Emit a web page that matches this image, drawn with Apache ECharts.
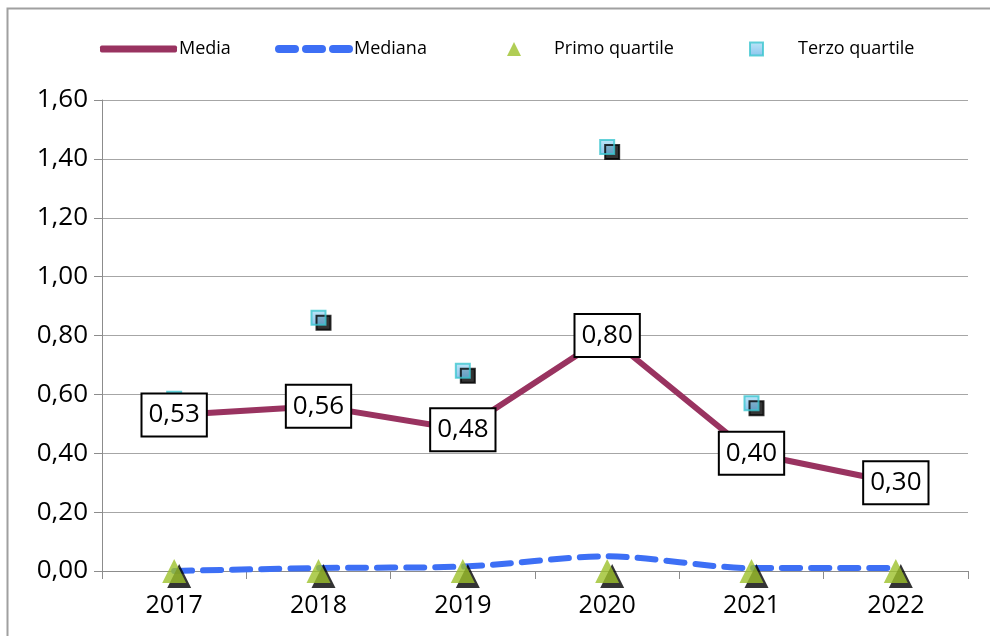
<!DOCTYPE html>
<html>
<head>
<meta charset="utf-8">
<script src="https://cdn.jsdelivr.net/npm/echarts@6/dist/echarts.min.js"></script>
<style>
html, body { margin: 0; padding: 0; background: #fff; }
#main { width: 990px; height: 636px; }
</style>
</head>
<body>
<div id="main"></div>
<script>
var years = ['2017', '2018', '2019', '2020', '2021', '2022'];
var media = [0.53, 0.56, 0.48, 0.80, 0.40, 0.30];
var mediana = [0.00, 0.01, 0.015, 0.05, 0.01, 0.01];
var primoQuartile = [0, 0, 0, 0, 0, 0];
var terzoQuartile = [0.585, 0.86, 0.68, 1.44, 0.57, null];

var font = 'Open Sans, Liberation Sans, sans-serif';
var fmt = function (v) { return v.toFixed(2).replace('.', ','); };

// icona tratteggiata per la legenda della mediana
var dashIcon = 'path://M4,0 H20 A4,4 0 0 1 20,8 H4 A4,4 0 0 1 4,0 Z ' +
    'M31,0 H47 A4,4 0 0 1 47,8 H31 A4,4 0 0 1 31,0 Z ' +
    'M58,0 H74 A4,4 0 0 1 74,8 H58 A4,4 0 0 1 58,0 Z';

var myChart = echarts.init(document.getElementById('main'));

var legendText = { fontSize: 18, fontFamily: font, color: '#000' };

var option = {
    animation: false,
    textStyle: { fontFamily: font, color: '#000' },
    graphic: [{
        type: 'rect',
        shape: { x: 7.5, y: 8.5, width: 1000, height: 700 },
        style: { fill: 'none', stroke: '#a0a0a0', lineWidth: 2 },
        silent: true
    }],
    legend: [
        {
            data: [{ name: 'Media', icon: 'roundRect' }],
            left: 95, top: 35,
            itemWidth: 77, itemHeight: 7, itemGap: 0,
            textStyle: Object.assign({ padding: [0, 0, 0, -3] }, legendText)
        },
        {
            data: [{ name: 'Mediana', icon: dashIcon }],
            left: 270, top: 35,
            itemWidth: 78, itemHeight: 8,
            itemStyle: { color: '#3d6ff5' },
            textStyle: Object.assign({ padding: [0, 0, 0, -4] }, legendText)
        },
        {
            data: ['Primo quartile'],
            left: 502, top: 35,
            itemWidth: 14, itemHeight: 14, itemGap: 0,
            textStyle: Object.assign({ padding: [0, 0, 0, 28] }, legendText)
        },
        {
            data: ['Terzo quartile'],
            left: 744, top: 35,
            itemWidth: 13, itemHeight: 13,
            textStyle: Object.assign({ padding: [0, 0, 0, 30] }, legendText)
        }
    ],
    grid: { left: 102, right: 22, top: 100, bottom: 65 },
    xAxis: {
        type: 'category',
        data: years,
        boundaryGap: true,
        axisLine: { lineStyle: { color: '#8c8c8c', width: 1 } },
        axisTick: { show: true, length: 8, lineStyle: { color: '#8c8c8c' } },
        axisLabel: { fontSize: 25, color: '#000', fontFamily: font, margin: 22 }
    },
    yAxis: {
        type: 'value',
        min: 0, max: 1.6, interval: 0.2,
        axisLine: { show: true, lineStyle: { color: '#8c8c8c', width: 1 } },
        axisTick: { show: true, length: 8, lineStyle: { color: '#8c8c8c' } },
        axisLabel: { fontSize: 26, color: '#000', fontFamily: font, margin: 14, formatter: fmt },
        splitLine: { lineStyle: { color: '#a6a6a6', width: 1 } }
    },
    series: [
        {
            name: 'Mediana',
            type: 'line',
            data: mediana,
            symbol: 'none',
            smooth: 0.3,
            z: 2,
            itemStyle: { color: '#3d6ff5' },
            lineStyle: { color: '#3d6ff5', width: 6, type: [18, 11], cap: 'round' }
        },
        {
            name: 'Primo quartile',
            type: 'scatter',
            data: primoQuartile,
            symbol: 'triangle',
            symbolSize: [24, 24],
            z: 4,
            itemStyle: {
                color: '#9cc12a',
                shadowColor: '#000',
                shadowBlur: 0,
                shadowOffsetX: 5,
                shadowOffsetY: 5
            }
        },
        {
            name: 'Terzo quartile',
            type: 'scatter',
            data: terzoQuartile,
            symbol: 'rect',
            symbolSize: 14,
            z: 3,
            itemStyle: {
                color: new echarts.graphic.LinearGradient(0, 0, 0, 1, [
                    { offset: 0, color: '#aee0f7' },
                    { offset: 1, color: '#6cb6e8' }
                ]),
                borderColor: '#3cc6cf',
                borderWidth: 2,
                shadowColor: '#000',
                shadowBlur: 0,
                shadowOffsetX: 5,
                shadowOffsetY: 5
            }
        },
        {
            name: 'Media',
            type: 'line',
            data: media,
            symbol: 'circle',
            symbolSize: 1,
            z: 5,
            itemStyle: { color: '#993360' },
            lineStyle: { color: '#993360', width: 6 },
            label: {
                show: true,
                position: 'inside',
                formatter: function (p) { return fmt(p.value); },
                fontSize: 26,
                fontFamily: font,
                color: '#000',
                backgroundColor: '#fff',
                borderColor: '#000',
                borderWidth: 2,
                padding: [9, 6, 6, 6]
            },
            labelLayout: { hideOverlap: false }
        }
    ]
};

myChart.setOption(option);
</script>
</body>
</html>
